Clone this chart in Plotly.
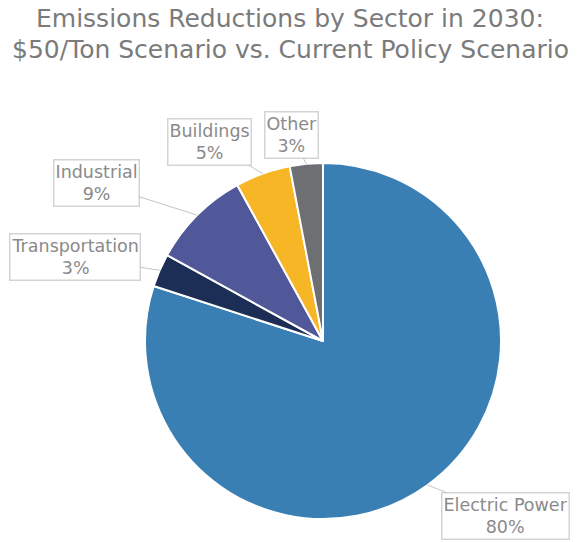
import math
import plotly.graph_objects as go

# Sector shares of 2030 emission reductions (%), clockwise from 12 o'clock
sectors = ["Electric Power", "Transportation", "Industrial", "Buildings", "Other"]
shares = [80, 3, 9, 5, 3]
colors = ["#3a7fb4", "#1c2e56", "#50589a", "#f6b625", "#6d6f73"]

W, H = 580, 542
TITLE_LINES = [
    "Emissions Reductions by Sector in 2030:",
    "$50/Ton Scenario vs. Current Policy Scenario",
]
FONT = "DejaVu Sans"

# Pie placement (paper fractions) and its radius in pixels
dom_x = [0.25, 0.8638]
dom_y = [0.0424, 0.6993]
radius_px = min((dom_x[1] - dom_x[0]) * W, (dom_y[1] - dom_y[0]) * H) / 2
cx = sum(dom_x) / 2
cy = sum(dom_y) / 2

# Callout box centres in pixels (from top-left of the page)
box_centres = {
    "Electric Power": (505, 516),
    "Transportation": (75, 257),
    "Industrial": (96, 183),
    "Buildings": (209, 142),
    "Other": (291, 135),
}

fig = go.Figure(
    go.Pie(
        labels=sectors,
        values=shares,
        sort=False,
        direction="clockwise",
        rotation=0,
        marker=dict(colors=colors, line=dict(color="white", width=2)),
        textinfo="none",
        hoverinfo="label+percent",
        domain=dict(x=dom_x, y=dom_y),
        showlegend=False,
    )
)

# Leader-line callouts pointing at each slice's mid angle on the rim
annotations = []
total = sum(shares)
cum = 0
for name, val in zip(sectors, shares):
    mid = (cum + val / 2) / total * 2 * math.pi
    cum += val
    tip_x = cx + radius_px * math.sin(mid) / W
    tip_y = cy + radius_px * math.cos(mid) / H
    tip_px = (tip_x * W, (1 - tip_y) * H)
    bx, by = box_centres[name]
    annotations.append(
        dict(
            x=tip_x,
            y=tip_y,
            xref="paper",
            yref="paper",
            text=f"{name}<br>{val}%",
            showarrow=True,
            arrowhead=0,
            arrowwidth=1,
            arrowcolor="#c4c4c4",
            standoff=0,
            ax=bx - tip_px[0],
            ay=by - tip_px[1],
            axref="pixel",
            ayref="pixel",
            font=dict(family=FONT, size=17.5, color="#8a8a8a"),
            bgcolor="white",
            bordercolor="#d4d4d4",
            borderwidth=1.5,
            borderpad=1,
            align="center",
        )
    )

# Two-line heading
for i, line in enumerate(TITLE_LINES):
    annotations.append(
        dict(
            x=0.5,
            y=1 - (19 + 30 * i) / H,
            xref="paper",
            yref="paper",
            xanchor="center",
            yanchor="middle",
            text=line,
            showarrow=False,
            font=dict(family=FONT, size=25, color="#7b7b7b"),
        )
    )

fig.update_layout(
    width=W,
    height=H,
    margin=dict(l=0, r=0, t=0, b=0),
    paper_bgcolor="white",
    plot_bgcolor="white",
    annotations=annotations,
)

fig.write_html("out.html")
